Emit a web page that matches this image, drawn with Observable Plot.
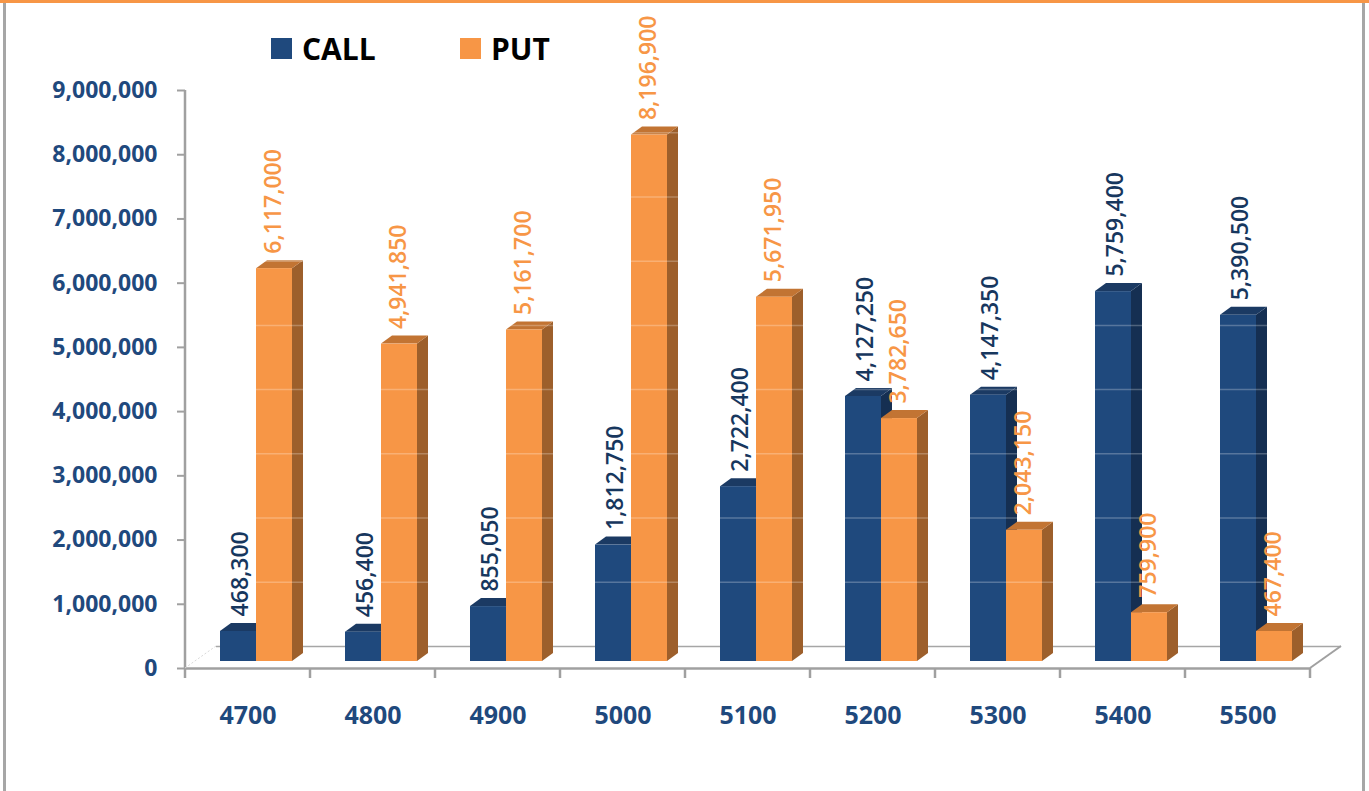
<!DOCTYPE html>
<html>
<head>
<meta charset="utf-8">
<script src="https://cdn.jsdelivr.net/npm/d3@7"></script>
<script src="https://cdn.jsdelivr.net/npm/@observablehq/plot@0.6"></script>
<style>
  html, body { margin: 0; padding: 0; background: #ffffff; }
  #page { position: relative; width: 1369px; height: 791px; overflow: hidden; font-family: "Open Sans", sans-serif; }
  #topline { position: absolute; left: 0; top: 0; width: 1369px; height: 3px; background: #f79646; }
  #lline { position: absolute; left: 3px; top: 3px; width: 3px; height: 788px; background: #a6a6a6; }
  #rline { position: absolute; left: 1362px; top: 3px; width: 3px; height: 788px; background: #a6a6a6; }
  .leg { position: absolute; top: 38px; display: flex; align-items: center; height: 21px; }
  .sw { width: 21px; height: 21px; margin-right: 10px; }
  .lt { font-family: "Open Sans", sans-serif; font-weight: 700; font-size: 30px; color: #000; line-height: 21px; }
  #chart { position: absolute; left: 0; top: 70px; }
</style>
</head>
<body>
<div id="page">
  <div id="topline"></div>
  <div id="lline"></div>
  <div id="rline"></div>
  <div class="leg" style="left:271px"><div class="sw" style="background:#1f497d"></div><span class="lt">CALL</span></div>
  <div class="leg" style="left:460px"><div class="sw" style="background:#f79646"></div><span class="lt">PUT</span></div>
  <div id="chart"></div>
</div>
<script>
// ---- data ----
const strikes = ["4700", "4800", "4900", "5000", "5100", "5200", "5300", "5400", "5500"];
const callOI = [468300, 456400, 855050, 1812750, 2722400, 4127250, 4147350, 5759400, 5390500];
const putOI = [6117000, 4941850, 5161700, 8196900, 5671950, 3782650, 2043150, 759900, 467400];
const yTicks = [0, 1000000, 2000000, 3000000, 4000000, 5000000, 6000000, 7000000, 8000000, 9000000];
const seriesNames = ["CALL", "PUT"];

// ---- build tables ----
const calls = strikes.map((s, i) => ({strike: s, value: callOI[i], series: seriesNames[0]}));
const puts = strikes.map((s, i) => ({strike: s, value: putOI[i], series: seriesNames[1]}));

const W = 1369, H = 721, ML = 185, MR = 59, MT = 20, MB = 123;
const fmt = d3.format(",");
const blue = "#1f497d", orange = "#f79646";
const DX = 11, DY = 8;       // bar depth
const FDX = 31, FDY = 22;    // floor depth

const chart = Plot.plot({
  width: W, height: H,
  marginTop: MT, marginBottom: MB, marginLeft: ML, marginRight: MR,
  style: {background: "transparent", fontFamily: "Open Sans, sans-serif", overflow: "visible"},
  x: {domain: strikes, padding: 0, axis: null, label: null},
  y: {domain: [0, 9000000], axis: null, label: null},
  marks: [
    Plot.ruleY([0], {dx: FDX, dy: -FDY, stroke: "#a6a6a6", strokeWidth: 1.5}),
    Plot.ruleY([0], {stroke: "#a0a0a0", strokeWidth: 2.5}),
    Plot.barY(calls, {x: "strike", y: "value", fill: blue, insetLeft: 35, insetRight: 54, dy: -7}),
    Plot.barY(puts, {x: "strike", y: "value", fill: orange, insetLeft: 71, insetRight: 18, dy: -7}),
    Plot.ruleY(yTicks.slice(1), {dx: FDX, dy: -FDY, stroke: "#ffffff", strokeOpacity: 0.25, strokeWidth: 1.5}),
    Plot.axisY({ticks: yTicks, tickFormat: fmt, tickSize: 8, tickPadding: 20, stroke: "#a0a0a0", strokeWidth: 2,
      fill: "#1f497d", fontSize: 23, fontWeight: "bold", label: null}),
    Plot.axisX({tickSize: 0, tickPadding: 38, fill: "#1f497d", fontSize: 25, fontWeight: "bold", label: null}),
    Plot.text(calls, {x: "strike", y: "value", text: d => fmt(d.value), rotate: -90, textAnchor: "start",
      lineAnchor: "middle", dx: -7, dy: -22, fill: "#17375e", fontSize: 23, fontWeight: 600}),
    Plot.text(puts, {x: "strike", y: "value", text: d => fmt(d.value), rotate: -90, textAnchor: "start",
      lineAnchor: "middle", dx: 26, dy: -22, fill: orange, fontSize: 23, fontWeight: 600})
  ]
});
document.getElementById("chart").appendChild(chart);

// ---- 3D faces on the rendered bars ----
const NS = "http://www.w3.org/2000/svg";
function addFaces(color, topColor, sideColor) {
  const groups = Array.from(chart.querySelectorAll("g")).filter(g =>
    (g.getAttribute("fill") || "").toLowerCase() === color && g.querySelector("rect"));
  groups.forEach(g => {
    Array.from(g.querySelectorAll("rect")).forEach(r => {
      const x = +r.getAttribute("x"), y = +r.getAttribute("y");
      const w = +r.getAttribute("width"), h = +r.getAttribute("height");
      const top = document.createElementNS(NS, "polygon");
      top.setAttribute("points", `${x},${y} ${x + DX},${y - DY} ${x + w + DX},${y - DY} ${x + w},${y}`);
      top.setAttribute("fill", topColor);
      const side = document.createElementNS(NS, "polygon");
      side.setAttribute("points", `${x + w},${y} ${x + w + DX},${y - DY} ${x + w + DX},${y + h - DY} ${x + w},${y + h}`);
      side.setAttribute("fill", sideColor);
      r.parentNode.insertBefore(side, r);
      r.parentNode.insertBefore(top, r);
    });
  });
}
addFaces(blue, "#1b3a63", "#152f52");
addFaces(orange, "#c27433", "#9d5f2b");

// ---- axis frame decorations ----
const svg = d3.select(chart);
const yb = H - MB, xr = W - MR;
const band = (xr - ML) / strikes.length;
const deco = svg.append("g").attr("stroke", "#a0a0a0");
deco.append("line").attr("x1", ML).attr("x2", ML).attr("y1", MT).attr("y2", yb).attr("stroke-width", 2.5);
d3.range(strikes.length + 1).forEach(i => {
  deco.append("line").attr("x1", ML + i * band).attr("x2", ML + i * band).attr("y1", yb).attr("y2", yb + 10).attr("stroke-width", 2.5);
});
deco.append("line").attr("x1", xr).attr("y1", yb).attr("x2", xr + FDX).attr("y2", yb - FDY).attr("stroke-width", 2);
deco.append("line").attr("x1", ML).attr("y1", yb).attr("x2", ML + FDX).attr("y2", yb - FDY)
  .attr("stroke", "#d9d9d9").attr("stroke-width", 1).attr("stroke-dasharray", "2,2");
</script>
</body>
</html>
